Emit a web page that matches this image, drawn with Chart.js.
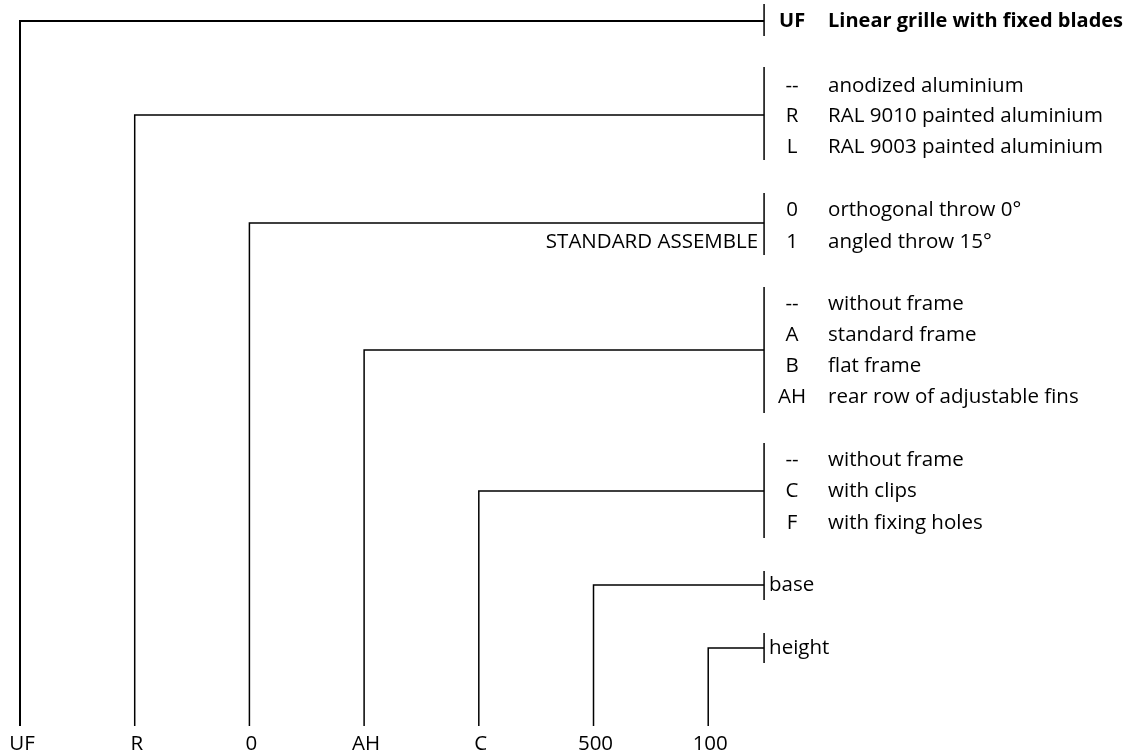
<!DOCTYPE html>
<html>
<head>
<meta charset="utf-8">
<script src="https://cdn.jsdelivr.net/npm/chart.js@4"></script>
<style>
  html, body { margin: 0; padding: 0; background: #fff; }
  #wrap { width: 1131px; height: 756px; }
</style>
</head>
<body>
<div id="wrap"><canvas id="codeChart"></canvas></div>
<script>
// product code segments, left to right
const codes = ["UF", "R", "0", "AH", "C", "500", "100"];
// level (y) at which each leader turns towards its bracket
const levels = [21, 115, 223, 350, 491, 585, 648];
// bracket extent for each segment
const bracketTop = [4, 67, 193, 287, 443, 571, 633];
const bracketBottom = [36, 160, 255, 413, 538, 600, 663];
// options listed next to each bracket
const optionCodes = [["UF"], ["--", "R", "L"], ["0", "1"], ["--", "A", "B", "AH"], ["--", "C", "F"], [""], [""]];
const optionTexts = [
    ["Linear grille with fixed blades"],
    ["anodized aluminium", "RAL 9010 painted aluminium", "RAL 9003 painted aluminium"],
    ["orthogonal throw 0°", "angled throw 15°"],
    ["without frame", "standard frame", "flat frame", "rear row of adjustable fins"],
    ["without frame", "with clips", "with fixing holes"],
    ["base"],
    ["height"]
];
const optionRows = [[21], [86, 116, 147], [210, 242], [304, 335, 366, 397], [460, 491, 523], [585], [648]];
const notes = ["", "", "STANDARD ASSEMBLE", "", "", "", ""];

document.addEventListener("DOMContentLoaded", function () {
    const ctx = document.getElementById("codeChart").getContext("2d");

    const BRACKET_X = 6.487;   // bracket column, in segment units
    const BASE_Y = 726;        // where the leaders start
    const FONT = "'Open Sans', 'Liberation Sans', sans-serif";
    const SIZE = "20.5px ";

    const datasets = [];
    codes.forEach((code, i) => {
        datasets.push({
            data: [
                { x: i, y: BASE_Y },
                { x: i, y: levels[i] },
                { x: BRACKET_X, y: levels[i] }
            ],
            borderWidth: i === 0 ? 2 : 1.5
        });
        datasets.push({
            data: [
                { x: BRACKET_X, y: bracketTop[i] },
                { x: BRACKET_X, y: bracketBottom[i] }
            ],
            borderWidth: 1.5
        });
    });

    const labelsPlugin = {
        id: "codeLabels",
        afterDatasetsDraw(chart) {
            const c = chart.ctx;
            const xs = chart.scales.x;
            const ys = chart.scales.y;
            const bx = xs.getPixelForValue(BRACKET_X);
            c.save();
            c.fillStyle = "#000";
            c.textBaseline = "middle";

            // segment names under the leaders
            c.font = SIZE + FONT;
            c.textAlign = "center";
            codes.forEach((code, i) => {
                c.fillText(code, xs.getPixelForValue(i) + 2, 744);
            });

            codes.forEach((code, g) => {
                const bold = g === 0;
                c.font = bold ? "bold 20px " + FONT : SIZE + FONT;
                optionRows[g].forEach((y, r) => {
                    const py = ys.getPixelForValue(y);
                    const oc = optionCodes[g][r];
                    if (oc) {
                        c.textAlign = "center";
                        c.fillText(oc, bx + 28, py);
                        c.textAlign = "left";
                        c.fillText(optionTexts[g][r], bx + 64, py);
                    } else {
                        c.textAlign = "left";
                        c.fillText(optionTexts[g][r], bx + 5, py);
                    }
                });
                if (notes[g]) {
                    c.font = SIZE + FONT;
                    c.textAlign = "right";
                    const last = optionRows[g][optionRows[g].length - 1];
                    c.fillText(notes[g], bx - 6, ys.getPixelForValue(last));
                }
            });
            c.restore();
        }
    };

    new Chart(ctx, {
        type: "scatter",
        data: { datasets: datasets },
        options: {
            responsive: true,
            maintainAspectRatio: false,
            animation: false,
            layout: { padding: 0 },
            elements: {
                line: { borderColor: "#000", fill: false, tension: 0 },
                point: { radius: 0, hoverRadius: 0 }
            },
            datasets: { scatter: { showLine: true, clip: false, borderColor: "#000" } },
            plugins: {
                legend: { display: false },
                tooltip: { enabled: false }
            },
            events: [],
            scales: {
                x: { type: "linear", display: false, min: -0.1744, max: 9.686 },
                y: { type: "linear", display: false, min: 0, max: 756, reverse: true }
            }
        },
        plugins: [labelsPlugin]
    });
});
</script>
</body>
</html>
